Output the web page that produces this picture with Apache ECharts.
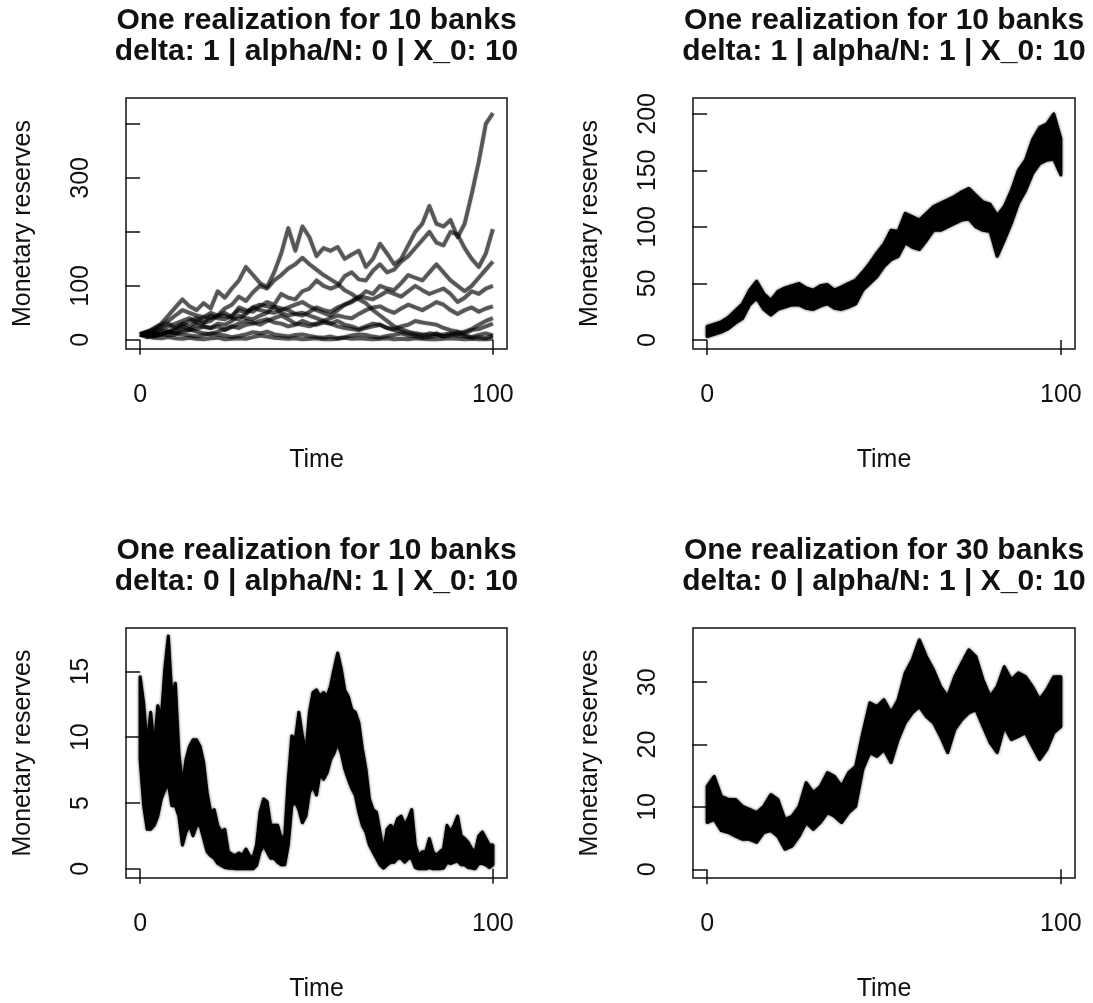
<!DOCTYPE html>
<html>
<head>
<meta charset="utf-8">
<title>One realization for N banks</title>
<script src="https://cdn.jsdelivr.net/npm/echarts@6/dist/echarts.min.js"></script>
<style>
  html, body { margin: 0; padding: 0; background: #fff; }
  #chart { width: 1093px; height: 1003px; }
</style>
</head>
<body>
<div id="chart"></div>
<script>
// ---- data ----
// time points (step 2) used by the 10-bank paths and the two smoother bands
const time2 = [0, 2, 4, 6, 8, 10, 12, 14, 16, 18, 20, 22, 24, 26, 28, 30, 32, 34, 36, 38, 40, 42, 44, 46, 48, 50,
  52, 54, 56, 58, 60, 62, 64, 66, 68, 70, 72, 74, 76, 78, 80, 82, 84, 86, 88, 90, 92, 94, 96, 98, 100];
// time points (step 1) for the delta 0 / 10 banks panel
const time1 = [0, 1, 2, 3, 4, 5, 6, 7, 8, 9, 10, 11, 12, 13, 14, 15, 16, 17, 18, 19, 20, 21, 22, 23, 24, 25, 26, 27, 28, 29,
  30, 31, 32, 33, 34, 35, 36, 37, 38, 39, 40, 41, 42, 43, 44, 45, 46, 47, 48, 49, 50, 51, 52, 53, 54, 55, 56, 57, 58, 59,
  60, 61, 62, 63, 64, 65, 66, 67, 68, 69, 70, 71, 72, 73, 74, 75, 76, 77, 78, 79, 80, 81, 82, 83, 84, 85, 86, 87, 88, 89,
  90, 91, 92, 93, 94, 95, 96, 97, 98, 99, 100];

// panel 1: delta 1, alpha/N 0, ten independent banks
const bank1 = [10, 14, 22, 30, 45, 60, 75, 62, 55, 68, 58, 90, 78, 95, 110, 135, 120, 105, 98, 125, 160, 207, 165, 210, 190,
  155, 170, 165, 172, 150, 158, 165, 135, 150, 178, 160, 140, 150, 175, 200, 215, 248, 215, 210, 222, 190, 215, 270, 330, 400, 420];
const bank2 = [10, 8, 12, 18, 15, 22, 30, 25, 35, 42, 50, 45, 58, 65, 80, 72, 88, 100, 95, 110, 120, 132, 140, 152, 140,
  130, 120, 112, 104, 92, 85, 75, 68, 55, 45, 35, 25, 20, 15, 12, 10, 8, 12, 6, 10, 14, 8, 5, 9, 12, 8];
const bank3 = [10, 12, 18, 25, 30, 22, 28, 35, 40, 32, 35, 45, 50, 42, 60, 55, 52, 62, 70, 65, 85, 78, 75, 90, 95,
  110, 100, 95, 100, 118, 125, 112, 110, 128, 140, 125, 130, 145, 155, 170, 185, 200, 180, 175, 200, 195, 170, 150, 135, 160, 205];
const bank4 = [10, 8, 6, 10, 15, 12, 20, 18, 28, 24, 22, 30, 28, 35, 45, 40, 38, 45, 50, 62, 58, 55, 48, 45, 52,
  60, 55, 52, 60, 65, 70, 78, 90, 85, 100, 95, 92, 105, 120, 115, 110, 125, 140, 125, 110, 100, 90, 100, 115, 130, 145];
const bank5 = [10, 15, 20, 28, 35, 45, 55, 50, 45, 42, 40, 44, 45, 40, 38, 48, 60, 55, 52, 50, 55, 60, 65, 70, 62,
  55, 50, 45, 55, 65, 72, 80, 78, 75, 82, 90, 85, 80, 90, 100, 92, 85, 90, 95, 85, 70, 78, 90, 85, 95, 100];
const bank6 = [10, 5, 8, 12, 8, 10, 15, 18, 20, 25, 22, 25, 18, 24, 30, 35, 32, 28, 35, 40, 45, 38, 30, 28, 25,
  30, 35, 40, 45, 42, 40, 48, 55, 60, 62, 55, 50, 58, 65, 60, 55, 62, 70, 65, 55, 48, 55, 60, 52, 58, 62];
const bank7 = [10, 15, 12, 10, 14, 18, 25, 20, 15, 12, 10, 15, 20, 25, 22, 28, 30, 35, 38, 32, 30, 25, 28, 35, 30,
  28, 32, 30, 25, 22, 20, 18, 22, 25, 28, 22, 20, 25, 28, 35, 32, 30, 28, 22, 18, 15, 12, 18, 20, 25, 30];
const bank8 = [10, 6, 4, 3, 5, 3, 2, 4, 2, 1, 3, 4, 1, 2, 3, 2, 5, 8, 6, 4, 3, 2, 3, 1, 2,
  3, 1, 1, 2, 4, 2, 3, 2, 1, 2, 3, 1, 2, 1, 3, 2, 1, 1, 2, 3, 2, 1, 2, 1, 1, 2];
const bank9 = [10, 12, 8, 10, 15, 12, 10, 8, 6, 9, 12, 10, 8, 5, 7, 10, 14, 12, 15, 10, 8, 6, 9, 10, 7,
  5, 4, 6, 3, 5, 8, 10, 9, 6, 4, 7, 9, 12, 8, 6, 4, 5, 8, 10, 12, 8, 6, 4, 5, 3, 8];
const bank10 = [10, 12, 15, 20, 25, 30, 35, 40, 32, 30, 45, 40, 38, 45, 55, 50, 60, 65, 62, 60, 50, 45, 48, 50, 45,
  40, 35, 30, 35, 28, 25, 20, 25, 30, 28, 22, 18, 15, 12, 10, 8, 12, 10, 6, 8, 10, 15, 20, 28, 35, 40];

// panel 2: delta 1, alpha/N 1, 10 banks -- upper / lower edge of the black band
const p2Upper = [12, 14, 16, 20, 26, 32, 44, 52, 41, 35, 43, 46, 48, 50, 46, 44, 48, 49, 44, 47, 50, 53, 60, 68, 77,
  85, 97, 96, 112, 109, 106, 112, 118, 121, 124, 127, 131, 134, 128, 122, 120, 110, 118, 132, 150, 159, 177, 188, 191, 200, 178];
const p2Lower = [3, 5, 7, 10, 15, 19, 31, 37, 27, 22, 27, 29, 31, 31, 28, 27, 30, 32, 28, 27, 29, 32, 44, 50, 56,
  65, 71, 74, 86, 82, 80, 88, 97, 97, 100, 103, 106, 107, 100, 97, 96, 74, 88, 103, 121, 132, 147, 156, 159, 160, 146];

// panel 3: delta 0, alpha/N 1, 10 banks
const p3Upper = [14.6, 12.6, 9.3, 11.9, 9.1, 12.4, 11.4, 15.2, 17.7, 13.1, 14.1, 8.8, 6.3, 8.3, 9.3, 9.8, 9.8, 9.3, 8.1, 5.8,
  4.3, 4.5, 3.3, 2.8, 3.0, 1.3, 1.1, 1.0, 1.2, 1.0, 1.5, 1.0, 0.8, 1.8, 4.3, 5.3, 5.1, 3.3, 3.3, 3.3,
  2.3, 2.5, 6.8, 10.1, 9.8, 11.9, 10.1, 8.8, 11.9, 13.4, 13.6, 13.1, 13.4, 13.1, 13.9, 15.2, 16.4, 15.2, 13.6, 13.1,
  12.1, 11.9, 11.1, 9.1, 7.6, 5.3, 4.5, 4.3, 2.8, 1.3, 3.0, 3.3, 3.0, 3.8, 4.0, 3.3, 3.8, 4.5, 1.8, 1.0,
  1.3, 1.3, 2.3, 1.3, 1.0, 1.3, 1.5, 3.3, 2.8, 3.3, 4.0, 2.5, 2.3, 2.0, 1.5, 1.3, 2.5, 2.8, 2.3, 1.8, 1.8];
const p3Lower = [8.3, 4.8, 3.0, 3.0, 3.3, 4.0, 5.3, 6.0, 6.5, 4.8, 4.8, 4.0, 1.8, 2.8, 3.3, 2.5, 3.3, 3.3, 2.3, 1.3,
  1.0, 0.8, 0.4, 0.25, 0.1, 0.05, 0.05, 0, 0, 0, 0, 0, 0, 0.25, 1.3, 1.8, 1.3, 0.8, 0.8, 0.5,
  0.3, 0.3, 1.8, 4.8, 5.1, 4.5, 3.5, 4.0, 5.8, 6.3, 5.6, 7.3, 6.8, 7.3, 8.3, 8.8, 9.6, 8.8, 7.6, 6.8,
  6.1, 5.6, 4.3, 3.3, 2.8, 1.8, 1.3, 0.8, 0.3, 0.05, 0.3, 0.5, 0.5, 0.8, 0.8, 0.5, 0.8, 0.8, 0.1, 0,
  0, 0, 0.1, 0, 0, 0, 0.05, 0.5, 0.4, 0.5, 0.6, 0.3, 0.3, 0.1, 0.05, 0, 0.4, 0.4, 0.3, 0.1, 0.3];

// panel 4: delta 0, alpha/N 1, 30 banks
const p4Upper = [13.3, 14.9, 11.7, 11.2, 11.2, 10.1, 9.6, 9.1, 10.1, 12.0, 11.2, 8.0, 8.5, 10.1, 13.9, 12.3, 13.3, 15.5, 14.9, 13.3,
  15.5, 16.5, 21.9, 26.7, 26.1, 27.2, 25.1, 27.2, 31.5, 33.6, 36.8, 34.1, 32.0, 29.3, 27.7, 30.9, 33.1, 35.2, 34.1, 30.4,
  27.7, 29.3, 32.5, 30.4, 31.5, 30.9, 29.3, 27.2, 28.8, 30.9, 30.9];
const p4Lower = [7.5, 8.0, 6.2, 5.9, 5.3, 4.8, 4.8, 4.3, 5.9, 6.2, 5.3, 3.2, 3.7, 5.3, 7.5, 6.4, 7.5, 9.1, 8.5, 7.5,
  9.1, 10.1, 16.0, 18.7, 18.1, 19.2, 17.1, 20.8, 23.5, 25.1, 26.1, 24.5, 23.5, 21.3, 18.7, 22.4, 24.0, 25.1, 25.6, 22.9,
  20.3, 18.7, 22.9, 20.8, 21.3, 21.9, 19.7, 17.6, 19.2, 21.9, 22.9];

// tick values
const timeTicks = [0, 100];
const p1Ticks = [0, 100, 200, 300, 400];
const p1Labels = [0, 100, 300];
const p2Ticks = [0, 50, 100, 150, 200];
const p3Ticks = [0, 5, 10, 15];
const p4Ticks = [0, 10, 20, 30];

const titles = [
  ['One realization for 10 banks', 'delta: 1 | alpha/N: 0 | X_0: 10'],
  ['One realization for 10 banks', 'delta: 1 | alpha/N: 1 | X_0: 10'],
  ['One realization for 10 banks', 'delta: 0 | alpha/N: 1 | X_0: 10'],
  ['One realization for 30 banks', 'delta: 0 | alpha/N: 1 | X_0: 10']
];

// ---- layout ----
const FONT = '"Liberation Sans", Arial, Helvetica, sans-serif';
const panels = [
  { left: 126, top: 98, width: 381, height: 251, yMin: -17, yMax: 448, ticks: p1Ticks, labels: p1Labels },
  { left: 693, top: 98, width: 382, height: 251, yMin: -8, yMax: 214, ticks: p2Ticks, labels: p2Ticks },
  { left: 126, top: 628, width: 381, height: 251, yMin: -0.7, yMax: 18.3, ticks: p3Ticks, labels: p3Ticks },
  { left: 693, top: 628, width: 382, height: 251, yMin: -1.4, yMax: 38.7, ticks: p4Ticks, labels: p4Ticks }
];

const pairs = (xs, ys) => xs.map((x, i) => [x, ys[i]]);

const grid = panels.map(p => ({
  left: p.left, top: p.top, width: p.width, height: p.height,
  show: true, borderColor: '#111', borderWidth: 1.5, backgroundColor: 'transparent'
}));

const xAxis = panels.map((p, i) => ({
  gridIndex: i, type: 'value', min: -4, max: 104,
  axisLine: { show: false },
  splitLine: { show: false },
  axisTick: { show: true, length: 15, customValues: timeTicks, lineStyle: { color: '#111', width: 1.5 } },
  axisLabel: { customValues: timeTicks, fontSize: 25, color: '#111', margin: 34, fontFamily: FONT },
  name: 'Time', nameLocation: 'middle', nameGap: 99,
  nameTextStyle: { fontSize: 25, color: '#111', fontFamily: FONT }
}));

const yAxis = panels.map((p, i) => ({
  gridIndex: i, type: 'value', min: p.yMin, max: p.yMax,
  axisLine: { show: false },
  splitLine: { show: false },
  axisTick: { show: true, length: 15, customValues: p.ticks, lineStyle: { color: '#111', width: 1.5 } },
  axisLabel: { customValues: p.labels, rotate: 90, fontSize: 25, color: '#111', margin: 32, fontFamily: FONT },
  name: 'Monetary reserves', nameLocation: 'middle', nameGap: 90,
  nameTextStyle: { fontSize: 25, color: '#111', fontFamily: FONT }
}));

const series = [];
[bank1, bank2, bank3, bank4, bank5, bank6, bank7, bank8, bank9, bank10].forEach(path => {
  series.push({
    type: 'line', xAxisIndex: 0, yAxisIndex: 0, data: pairs(time2, path),
    symbol: 'none', silent: true,
    lineStyle: { color: 'rgba(0,0,0,0.58)', width: 4, join: 'round',
      shadowBlur: 2, shadowColor: 'rgba(0,0,0,0.35)' }
  });
});

// the overlapping paths of the coupled systems form one black band: draw it as a polygon
function band(i, time, lower, upper) {
  series.push({
    type: 'custom', xAxisIndex: i, yAxisIndex: i, silent: true, clip: true,
    data: pairs(time, lower),
    renderItem(params, api) {
      if (params.dataIndex !== 0) return null;
      const top = time.map((t, k) => api.coord([t, upper[k]]));
      const bottom = time.map((t, k) => api.coord([t, lower[k]])).reverse();
      return {
        type: 'polygon',
        shape: { points: top.concat(bottom) },
        style: { fill: '#000', stroke: '#000', lineWidth: 3, lineJoin: 'round',
          shadowBlur: 3, shadowColor: 'rgba(0,0,0,0.6)' }
      };
    }
  });
}
band(1, time2, p2Lower, p2Upper);
band(2, time1, p3Lower, p3Upper);
band(3, time2, p4Lower, p4Upper);

const graphic = [];
panels.forEach((p, i) => {
  const cx = p.left + p.width / 2;
  const base = p.top - 98;
  titles[i].forEach((line, j) => {
    graphic.push({
      type: 'text', x: cx, y: base + 21 + j * 31,
      style: { text: line, fill: '#111', font: 'bold 30px ' + FONT, align: 'center', verticalAlign: 'middle' }
    });
  });
});

const chart = echarts.init(document.getElementById('chart'));
chart.setOption({
  backgroundColor: '#fff',
  animation: false,
  textStyle: { fontFamily: FONT },
  grid, xAxis, yAxis, series, graphic
});
</script>
</body>
</html>
